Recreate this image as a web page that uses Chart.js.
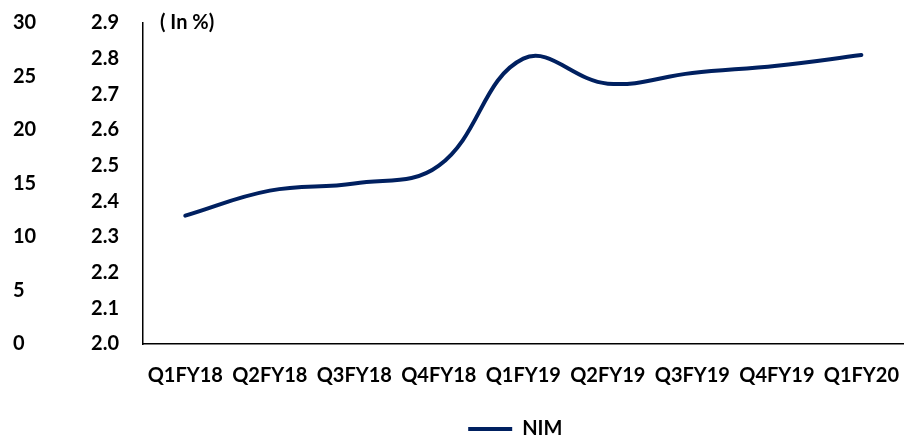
<!DOCTYPE html>
<html>
<head>
<meta charset="utf-8">
<script src="https://cdn.jsdelivr.net/npm/chart.js@4"></script>
<style>
  html, body { margin: 0; padding: 0; background: #fff; }
  #wrap { width: 919px; height: 435px; }
</style>
</head>
<body>
<div id="wrap"><canvas id="nim"></canvas></div>
<script>
// Quarterly net interest margin, in percent
const quarters = ['Q1FY18', 'Q2FY18', 'Q3FY18', 'Q4FY18', 'Q1FY19', 'Q2FY19', 'Q3FY19', 'Q4FY19', 'Q1FY20'];
const nimValues = [2.36, 2.43, 2.45, 2.50, 2.80, 2.73, 2.76, 2.78, 2.81];
const outerTicks = [0, 5, 10, 15, 20, 25, 30];
const innerTicks = [2.0, 2.1, 2.2, 2.3, 2.4, 2.5, 2.6, 2.7, 2.8, 2.9];
const unitLabel = '( In %)';

const NAVY = '#002060';
const FONT = 'Lato, "Open Sans", sans-serif';
const boldFont = { family: FONT, size: 20, weight: 'bold' };

// Centre the legend under the plot area, drop it to the foot, and write the unit note
const extras = {
  id: 'extras',
  afterLayout(chart) {
    const lg = chart.legend, ca = chart.chartArea;
    if (lg) {
      lg.left = ca.left - 8; lg.right = ca.right - 8; lg.width = ca.right - ca.left;
      lg.top += 14; lg.bottom += 14;
    }
  },
  afterDraw(chart) {
    const ctx = chart.ctx, ca = chart.chartArea;
    ctx.save();
    ctx.font = 'bold 20px ' + FONT;
    ctx.fillStyle = '#000';
    ctx.textBaseline = 'middle';
    ctx.fillText(unitLabel, ca.left + 17, ca.top);
    ctx.restore();
  }
};

new Chart(document.getElementById('nim'), {
  type: 'line',
  data: {
    labels: quarters,
    datasets: [{
      label: 'NIM',
      data: nimValues,
      yAxisID: 'yInner',
      borderColor: NAVY,
      backgroundColor: NAVY,
      borderWidth: 4,
      borderCapStyle: 'round',
      tension: 0.4,
      pointRadius: 0,
      fill: false
    }]
  },
  options: {
    responsive: true,
    maintainAspectRatio: false,
    animation: false,
    layout: { padding: { left: 13, top: 23, right: 0, bottom: 0 } },
    plugins: {
      tooltip: { enabled: false },
      legend: {
        position: 'bottom',
        labels: {
          font: boldFont,
          color: '#000',
          boxWidth: 44,
          boxHeight: 4,
          padding: 0,
          generateLabels: (chart) => chart.data.datasets.map((ds, i) => ({
            text: ds.label,
            fillStyle: ds.borderColor,
            strokeStyle: ds.borderColor,
            lineWidth: 0,
            datasetIndex: i,
            fontColor: '#000'
          }))
        }
      }
    },
    scales: {
      x: {
        offset: true,
        afterFit: (s) => { s.height -= 3; },
        grid: { display: false, drawTicks: false },
        border: { display: true, color: '#000', width: 1.5 },
        ticks: { font: boldFont, color: '#000', padding: 20, maxRotation: 0, autoSkip: false }
      },
      yInner: {
        position: 'left',
        weight: 0,
        min: 2.0,
        max: 2.9,
        afterBuildTicks: (s) => { s.ticks = innerTicks.map(v => ({ value: v })); },
        afterFit: (s) => { s.width = 54; },
        // invisible tick marks keep the labels clear of the axis line
        grid: { display: true, drawOnChartArea: false, drawTicks: true, tickLength: 20, color: 'rgba(0,0,0,0)' },
        border: { display: true, color: '#000', width: 1.5 },
        ticks: { font: boldFont, color: '#000', padding: 4, callback: (v) => Number(v).toFixed(1) }
      },
      yOuter: {
        position: 'left',
        weight: 1,
        min: 0,
        max: 30,
        afterBuildTicks: (s) => { s.ticks = outerTicks.map(v => ({ value: v })); },
        afterFit: (s) => { s.width = 76; },
        grid: { display: false, drawTicks: false },
        border: { display: false },
        ticks: { font: boldFont, color: '#000', padding: 0, crossAlign: 'far' }
      }
    }
  },
  plugins: [extras]
});
</script>
</body>
</html>
